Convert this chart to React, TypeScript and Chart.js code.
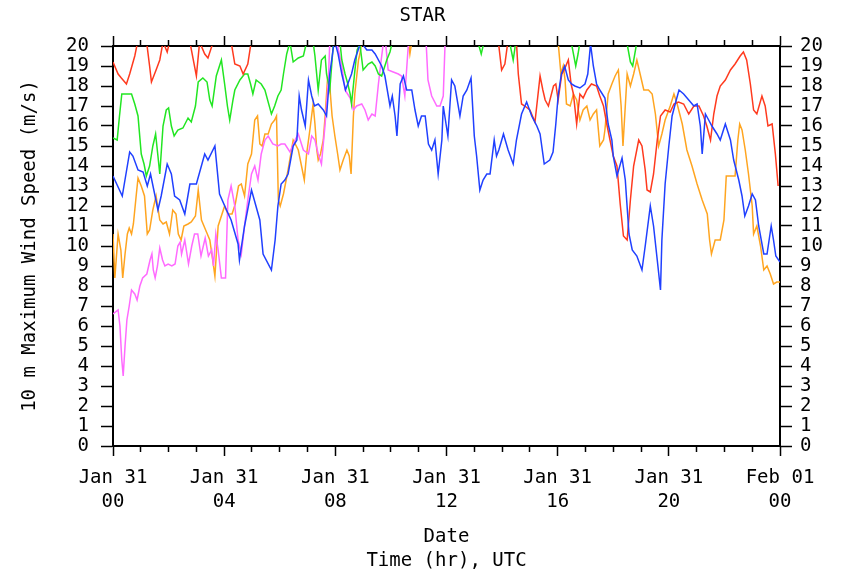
import React, { useEffect, useRef } from 'react';
import { Chart, registerables } from 'chart.js';

Chart.register(...registerables);

const FONT = "'DejaVu Sans Mono', 'Liberation Mono', monospace";

// Station / axis text
const chartTitle = 'STAR';
const yTitle = '10 m Maximum Wind Speed (m/s)';
const xTitle = ['Date', 'Time (hr), UTC'];

// Major x tick positions (minutes since Jan 31 00 UTC) and labels
const majorMinutes = [0, 240, 480, 720, 960, 1200, 1440];
const majorDates = ['Jan 31', 'Jan 31', 'Jan 31', 'Jan 31', 'Jan 31', 'Jan 31', 'Feb 01'];
const majorHours = ['00', '04', '08', '12', '16', '20', '00'];

// Blue series
const blueTime = [0,20,36,43,54,65,74,81,97,104,117,126,133,144,155,166,180,198,205,220,230,245,255,270,273,284,299,317,324,342,350,356,363,371,378,389,397,402,407,415,422,429,435,443,454,461,468,478,486,494,502,510,515,522,535,548,559,566,580,587,598,603,609,613,620,627,634,645,652,659,666,674,681,688,695,702,710,713,723,731,738,749,756,764,773,780,785,792,799,807,814,823,828,833,843,853,864,871,882,893,904,915,922,931,943,950,956,961,968,975,983,990,997,1008,1019,1025,1031,1037,1044,1051,1062,1069,1077,1080,1088,1099,1106,1114,1121,1131,1142,1149,1160,1167,1175,1182,1185,1192,1200,1207,1216,1222,1232,1243,1254,1261,1268,1272,1279,1286,1293,1304,1311,1322,1333,1340,1351,1358,1364,1372,1380,1387,1394,1405,1412,1421,1426,1431,1440];
const blueSpeed = [13.5,12.5,14.7,14.5,13.8,13.7,13.0,13.6,11.8,12.5,14.1,13.6,12.5,12.3,11.6,13.1,13.1,14.6,14.3,15.0,12.6,11.8,11.3,10.1,9.3,11.0,12.8,11.3,9.6,8.8,10.3,12.0,13.1,13.3,13.6,15.0,15.3,17.5,16.8,16.0,18.3,17.5,17.0,17.1,16.8,16.5,18.6,20.3,19.6,18.6,17.8,18.3,18.6,19.3,20.2,19.8,19.8,19.6,19.0,18.5,17.0,17.5,16.5,15.5,18.1,18.5,17.8,17.8,16.8,16.0,16.5,16.5,15.1,14.8,15.3,13.6,15.3,17.0,15.5,18.3,18.0,16.5,17.5,17.8,18.4,15.5,14.5,12.8,13.3,13.6,13.6,15.3,14.5,14.8,15.6,14.8,14.1,15.3,16.6,17.2,16.5,16.0,15.6,14.1,14.3,14.7,16.1,17.5,18.6,19.0,18.3,18.1,18.0,17.9,18.1,18.6,20.1,19.0,18.1,17.8,17.4,16.1,15.3,14.5,13.5,14.4,13.3,10.6,9.8,9.5,8.8,10.0,12.0,11.0,9.3,7.8,10.3,13.1,15.0,16.5,17.3,17.8,17.6,17.3,17.0,17.1,16.0,14.6,16.6,16.3,16.0,15.6,15.3,16.1,15.3,14.3,13.3,12.5,11.5,12.0,12.6,12.3,11.0,9.6,9.6,11.0,10.3,9.5,9.2];

// Red series
const redTime = [0,11,18,29,36,47,54,63,72,79,83,93,101,108,117,123,145,166,180,187,198,205,212,220,242,255,263,274,281,291,299,330,500,700,800,832,839,846,853,861,871,875,882,889,900,911,922,928,933,940,951,956,961,969,974,983,989,994,1001,1008,1015,1023,1033,1044,1051,1059,1066,1073,1080,1088,1095,1102,1110,1117,1124,1135,1142,1149,1153,1160,1167,1175,1182,1192,1203,1211,1221,1232,1243,1254,1265,1275,1282,1290,1297,1304,1311,1322,1333,1343,1354,1361,1368,1376,1383,1390,1401,1408,1414,1423,1430,1436];
const redSpeed = [19.2,18.6,18.4,18.1,18.6,19.5,20.3,21,20.3,19.0,18.2,18.8,19.3,20.2,19.7,20.3,21,20.2,18.5,20.2,19.6,19.4,19.9,20.4,21,20.2,19.1,19.0,18.6,19.1,20.3,21,22,22,21,20.2,18.8,19.1,20.3,20.5,20.2,18.6,17.1,17.0,16.8,16.2,18.5,17.8,17.3,17.0,18.0,18.1,17.3,18.6,18.8,19.3,18.1,17.6,16.1,17.6,17.4,17.8,18.1,18.0,17.5,17.0,16.1,15.3,14.5,14.0,12.1,10.5,10.3,12.3,14.0,15.3,15.0,13.8,12.8,12.7,13.6,15.3,16.5,16.8,16.7,17.1,17.2,17.1,16.6,17.0,17.0,16.5,16.0,15.3,16.6,17.5,18.0,18.3,18.8,19.1,19.5,19.7,19.3,18.1,16.8,16.6,17.5,17.0,16.0,16.1,14.6,13.0];

// Green series
const greenTime = [0,9,14,19,29,40,47,54,61,67,72,79,86,92,97,101,108,115,120,126,132,140,151,162,169,178,184,194,203,209,214,223,234,241,247,252,259,263,274,284,291,297,302,309,320,328,342,349,356,363,368,375,382,389,400,411,418,425,432,436,443,450,458,461,468,476,484,490,494,501,507,512,515,521,527,533,540,551,559,566,573,580,591,598,603,663,784,789,795,800,814,846,857,864,869,879,965,990,999,1004,1008,1051,1110,1117,1122,1131,1181,1440];
const greenSpeed = [15.4,15.3,16.5,17.6,17.6,17.6,17.1,16.5,14.6,14.1,13.5,14.0,15.0,15.6,14.5,13.6,16.0,16.8,16.9,16.0,15.5,15.8,15.9,16.4,16.2,17.0,18.2,18.4,18.2,17.3,17.0,18.5,19.3,18.1,17.0,16.3,17.3,17.8,18.3,18.6,18.6,18.1,17.6,18.3,18.1,17.8,16.6,17.0,17.5,17.8,18.6,19.6,20.2,19.2,19.4,19.5,20.2,20.5,20.2,19.5,17.8,19.3,19.5,18.6,17.8,20.2,20.5,20.2,19.3,18.6,18.1,17.6,17.1,18.5,19.8,20.1,18.8,19.1,19.2,19.0,18.6,18.5,19.3,19.7,20.2,21,20.5,20.1,19.6,20.1,20.6,20.6,20.1,19.3,20.1,20.8,21,20.1,19.0,19.6,20.2,20.8,20.1,19.2,19.0,20.2,21,21];

// Magenta series
const magentaTime = [0,11,15,19,22,26,30,35,40,47,52,58,64,73,80,84,87,91,96,101,107,112,119,127,134,140,145,148,155,163,170,176,183,190,199,206,213,217,222,227,234,243,248,255,263,270,277,284,291,299,306,313,320,328,335,345,356,363,371,382,393,400,411,422,429,436,443,450,458,465,468,475,483,494,501,512,519,526,537,544,551,559,566,573,579,584,588,594,605,616,623,630,638,652,676,680,688,699,706,713,717,728];
const magentaSpeed = [6.6,6.8,6.0,4.3,3.5,5.0,6.3,7.0,7.8,7.6,7.3,8.0,8.4,8.6,9.3,9.6,8.8,8.4,9.0,9.9,9.3,9.0,9.1,9.0,9.1,10.0,10.2,9.6,10.3,9.1,10.0,10.6,10.6,9.5,10.4,9.5,9.8,9.0,10.6,9.8,8.4,8.4,12.3,13.0,12.0,10.3,9.6,11.0,12.3,13.6,14.0,13.3,14.6,15.3,15.5,15.1,15.0,15.1,15.1,14.7,15.3,15.6,14.8,14.6,15.5,15.3,14.6,14.1,16.1,18.3,20.2,20.6,20.2,19.0,17.8,17.4,16.8,17.0,17.1,16.8,16.3,16.6,16.5,18.1,19.3,20.2,20.3,18.8,18.7,18.6,18.5,17.5,20.2,21,20.2,18.3,17.5,17.0,17.0,17.5,20.2,21];

// Orange series
const orangeTime = [0,4,11,17,21,26,31,35,40,44,50,54,61,68,74,79,86,93,101,108,115,122,129,136,141,147,153,162,169,178,184,191,200,209,214,220,227,241,248,257,264,271,277,284,291,299,306,312,317,322,328,335,342,349,353,357,361,368,378,389,400,407,413,418,425,432,436,440,443,448,454,458,463,468,473,479,485,490,497,505,510,514,519,522,530,533,537,587,638,641,645,728,879,961,967,972,976,979,987,994,1001,1008,1015,1023,1030,1037,1044,1051,1059,1062,1069,1077,1084,1091,1097,1101,1106,1110,1117,1124,1131,1138,1146,1156,1164,1171,1178,1185,1192,1203,1211,1218,1229,1239,1250,1261,1272,1283,1288,1292,1300,1311,1319,1324,1336,1343,1349,1353,1358,1365,1372,1380,1383,1390,1398,1405,1412,1419,1426,1433,1440];
const orangeSpeed = [10.6,8.4,10.6,9.8,8.4,9.6,10.6,10.9,10.6,11.1,12.5,13.4,13.0,12.5,10.6,10.8,11.8,12.5,11.3,11.1,11.2,10.6,11.8,11.6,10.6,10.3,11.0,11.1,11.2,11.5,12.8,11.3,10.8,10.3,9.5,8.5,11.0,12.0,11.6,11.6,12.1,13.0,13.1,12.5,14.1,14.6,16.3,16.5,15.1,15.0,15.6,15.6,16.1,16.3,16.5,12.3,12.0,12.6,13.8,15.3,14.8,14.0,13.3,14.6,15.8,17.1,16.1,14.8,14.3,14.6,15.3,16.5,18.3,18.0,16.5,15.5,14.6,13.8,14.3,14.8,14.5,13.6,16.5,17.6,19.3,19.6,20.2,21,20.2,19.6,20.2,21.5,21.5,20.2,18.6,19.0,18.3,17.1,17.0,17.6,17.3,16.3,16.8,17.0,16.3,16.6,16.8,15.0,15.3,15.8,17.6,18.1,18.5,18.8,17.0,15.0,17.0,18.6,18.0,18.6,19.3,18.6,17.8,17.8,17.6,16.6,15.0,15.6,16.3,17.0,17.6,17.1,16.1,14.8,14.0,13.1,12.3,11.6,10.3,9.6,10.3,10.3,11.3,13.5,13.5,13.5,15.3,16.1,15.8,14.8,13.6,12.0,10.6,11.0,10.0,8.8,9.0,8.6,8.1,8.2,8.2];

const seriesColors = ['#2040ff', '#ff3a1e', '#22e622', '#ff6aff', '#ffa520'];

function toPoints(t: number[], v: number[]) {
  return t.map((m, i) => ({ x: m, y: v[i] }));
}

export default function App() {
  const ref = useRef<HTMLCanvasElement | null>(null);

  useEffect(() => {
    if (!ref.current) return;
    const mk = (label: string, t: number[], v: number[], color: string) => ({
      label,
      data: toPoints(t, v),
      borderColor: color,
      backgroundColor: color,
      borderWidth: 1.5,
      pointRadius: 0,
      tension: 0,
      fill: false,
      clip: 0,
    });
    const isMajor = (ctx: any) => ctx && ctx.tick && majorMinutes.indexOf(Math.round(ctx.tick.value)) >= 0;
    const textFont = { family: FONT, size: 19, lineHeight: 1.25 };

    const chart = new Chart(ref.current, {
      type: 'line',
      data: {
        datasets: [
          mk('blue', blueTime, blueSpeed, seriesColors[0]),
          mk('red', redTime, redSpeed, seriesColors[1]),
          mk('green', greenTime, greenSpeed, seriesColors[2]),
          mk('magenta', magentaTime, magentaSpeed, seriesColors[3]),
          mk('orange', orangeTime, orangeSpeed, seriesColors[4]),
        ] as any,
      },
      options: {
        animation: false,
        responsive: false,
        maintainAspectRatio: false,
        events: [],
        layout: { padding: 0 },
        plugins: {
          legend: { display: false },
          tooltip: { enabled: false },
          title: {
            display: true,
            text: chartTitle,
            color: '#000',
            font: { family: FONT, size: 19, weight: 'normal', lineHeight: 1 },
            padding: { top: 7, bottom: 0 },
          },
        },
        scales: {
          x: {
            type: 'linear',
            position: 'bottom',
            min: 0,
            max: 1440,
            afterFit: (s: any) => { s.height = 134; },
            grid: {
              drawOnChartArea: false,
              drawTicks: true,
              tickLength: 10,
              tickColor: '#000',
              tickWidth: 1.5,
              tickBorderDash: (ctx: any) => (isMajor(ctx) ? [] : [5, 100]),
            },
            border: { display: true, color: '#000', width: 2 },
            ticks: {
              stepSize: 60,
              autoSkip: false,
              maxRotation: 0,
              minRotation: 0,
              padding: 10,
              color: '#000',
              font: textFont,
              callback: (v: any) => {
                const i = majorMinutes.indexOf(Math.round(Number(v)));
                return i >= 0 ? [majorDates[i], majorHours[i]] : '';
              },
            },
            title: {
              display: true,
              text: xTitle,
              color: '#000',
              font: textFont,
              padding: { top: 0, bottom: 7 },
            },
          },
          x2: {
            type: 'linear',
            position: 'top',
            min: 0,
            max: 1440,
            afterFit: (s: any) => { s.height = 20; },
            grid: {
              drawOnChartArea: false,
              drawTicks: true,
              tickLength: 10,
              tickColor: '#000',
              tickWidth: 1.5,
              tickBorderDash: (ctx: any) => (isMajor(ctx) ? [] : [0, 4, 6, 100]),
            },
            border: { display: true, color: '#000', width: 2 },
            ticks: {
              stepSize: 60,
              autoSkip: false,
              maxRotation: 0,
              minRotation: 0,
              callback: () => '',
            },
          },
          y: {
            type: 'linear',
            position: 'left',
            min: 0,
            max: 20,
            afterFit: (s: any) => { s.width = 113; },
            grid: {
              drawOnChartArea: false,
              drawTicks: true,
              tickLength: 12,
              tickColor: '#000',
              tickWidth: 1.5,
            },
            border: { display: true, color: '#000', width: 2 },
            ticks: {
              stepSize: 1,
              autoSkip: false,
              padding: 12,
              color: '#000',
              font: textFont,
            },
            title: {
              display: true,
              text: yTitle,
              color: '#000',
              font: textFont,
              padding: { top: 18, bottom: 0 },
            },
          },
          y2: {
            type: 'linear',
            position: 'right',
            min: 0,
            max: 20,
            afterFit: (s: any) => { s.width = 65; },
            grid: {
              drawOnChartArea: false,
              drawTicks: true,
              tickLength: 12,
              tickColor: '#000',
              tickWidth: 1.5,
            },
            border: { display: true, color: '#000', width: 2 },
            ticks: {
              stepSize: 1,
              autoSkip: false,
              padding: 8,
              color: '#000',
              font: textFont,
            },
          },
        },
      } as any,
    });
    return () => chart.destroy();
  }, []);

  return (
    <div style={{ position: 'absolute', left: 0, top: 0, width: 845, height: 580, background: '#fff' }}>
      <canvas ref={ref} width={845} height={580} style={{ display: 'block', width: 845, height: 580 }} />
    </div>
  );
}
